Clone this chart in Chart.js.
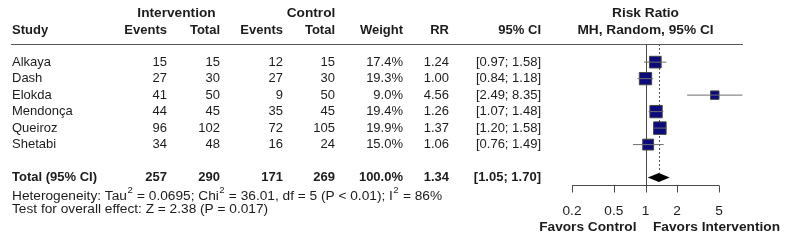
<!DOCTYPE html>
<html>
<head>
<meta charset="utf-8">
<script src="https://cdn.jsdelivr.net/npm/chart.js@4/dist/chart.umd.min.js"></script>
<style>
html,body{margin:0;padding:0;background:#fff;}
canvas{display:block;}
</style>
</head>
<body>
<canvas id="c" width="785" height="240"></canvas>
<script>
// ---- data ----
const studies = ['Alkaya', 'Dash', 'Elokda', 'Mendonça', 'Queiroz', 'Shetabi'];
const intEvents = [15, 27, 41, 44, 96, 34];
const intTotal = [15, 30, 50, 45, 102, 48];
const ctrlEvents = [12, 27, 9, 35, 72, 16];
const ctrlTotal = [15, 30, 50, 45, 105, 24];
const weights = [17.4, 19.3, 9.0, 19.4, 19.9, 15.0];
const rr = [1.24, 1.00, 4.56, 1.26, 1.37, 1.06];
const ciLow = [0.97, 0.84, 2.49, 1.07, 1.20, 0.76];
const ciHigh = [1.58, 1.18, 8.35, 1.48, 1.58, 1.49];
const totalLabel = 'Total (95% CI)';
const totalValues = [257, 290, 171, 269];
const totalWeight = 100.0;
const totalRR = 1.34;
const totalCI = [1.05, 1.70];
const axisTicks = [0.2, 0.5, 1, 2, 5];
const labelLeft = 'Favors Control';
const labelRight = 'Favors Intervention';
const heteroParts = [['Heterogeneity: Tau', 0], ['2', 1], [' = 0.0695; Chi', 0], ['2', 1], [' = 36.01, df = 5 (P < 0.01); I', 0], ['2', 1], [' = 86%', 0]];
const overallText = 'Test for overall effect: Z = 2.38 (P = 0.017)';

// ---- layout / style ----
const FONT = '"Liberation Sans", Arial, sans-serif';
const TXT = '#1c1c1c';
const rowTotal = 7;
const colRight = {ie: 167, it: 220, ce: 283, ct: 335, w: 403, rr: 449, ci: 541};
const BIG = '13.7px ';

function fmtCI(lo, hi) { return '[' + lo.toFixed(2) + '; ' + hi.toFixed(2) + ']'; }
function sideFor(w) { return 2.8 * Math.sqrt(w); }

const ciDatasets = studies.map((s, i) => ({
  type: 'line',
  data: [{x: ciLow[i], y: i}, {x: ciHigh[i], y: i}],
  borderColor: '#6e6e6e',
  borderWidth: 1,
  pointRadius: 0,
  clip: false,
  order: 0
}));

const squareDataset = {
  type: 'scatter',
  data: studies.map((s, i) => ({x: rr[i], y: i})),
  pointStyle: 'rect',
  pointRadius: weights.map(w => sideFor(w) / (2 * Math.SQRT1_2)),
  backgroundColor: '#0b0b7e',
  borderColor: '#444',
  borderWidth: 1,
  clip: false,
  order: 1
};

const forestPlugin = {
  id: 'forest',
  beforeDatasetsDraw(chart) {
    const ctx = chart.ctx;
    const xs = chart.scales.x, ys = chart.scales.y;
    const ca = chart.chartArea;
    ctx.save();
    // header rule
    ctx.strokeStyle = '#5a5a5a';
    ctx.lineWidth = 1;
    ctx.beginPath();
    ctx.moveTo(11, Math.round(ca.top) + 0.5);
    ctx.lineTo(743, Math.round(ca.top) + 0.5);
    ctx.stroke();
    // reference line at 1
    const x1 = Math.round(xs.getPixelForValue(1)) + 0.5;
    ctx.strokeStyle = '#4a4a4a';
    ctx.beginPath();
    ctx.moveTo(x1, ca.top);
    ctx.lineTo(x1, ca.bottom);
    ctx.stroke();
    // dotted summary line
    const xs1 = Math.round(xs.getPixelForValue(totalRR)) + 0.5;
    const yT = ys.getPixelForValue(rowTotal);
    ctx.setLineDash([2, 2]);
    ctx.strokeStyle = '#555';
    ctx.beginPath();
    ctx.moveTo(xs1, ca.top);
    ctx.lineTo(xs1, yT - 5);
    ctx.stroke();
    ctx.setLineDash([]);
    // diamond
    ctx.fillStyle = '#000';
    ctx.beginPath();
    ctx.moveTo(xs.getPixelForValue(totalCI[0]), yT);
    ctx.lineTo(xs.getPixelForValue(totalRR), yT - 4.5);
    ctx.lineTo(xs.getPixelForValue(totalCI[1]), yT);
    ctx.lineTo(xs.getPixelForValue(totalRR), yT + 4.5);
    ctx.closePath();
    ctx.fill();
    // axis
    const ay = Math.round(ca.bottom) + 0.5;
    ctx.strokeStyle = '#4a4a4a';
    ctx.beginPath();
    ctx.moveTo(xs.getPixelForValue(axisTicks[0]), ay);
    ctx.lineTo(xs.getPixelForValue(axisTicks[axisTicks.length - 1]), ay);
    axisTicks.forEach(t => {
      const tx = Math.round(xs.getPixelForValue(t)) + 0.5;
      ctx.moveTo(tx, ay);
      ctx.lineTo(tx, ay + 7);
    });
    ctx.stroke();
    ctx.fillStyle = TXT;
    ctx.font = BIG + FONT;
    ctx.textAlign = 'center';
    ctx.textBaseline = 'middle';
    axisTicks.forEach(t => {
      ctx.fillText(String(t), xs.getPixelForValue(t), ay + 25.5);
    });
    ctx.font = 'bold ' + BIG + FONT;
    ctx.textAlign = 'right';
    ctx.fillText(labelLeft, x1 - 10, ay + 42);
    ctx.textAlign = 'left';
    ctx.fillText(labelRight, x1 + 6.5, ay + 42);
    ctx.restore();
  },
  afterDatasetsDraw(chart) {
    const ctx = chart.ctx;
    const xs = chart.scales.x, ys = chart.scales.y;
    ctx.save();
    // inner CI lines for confidence intervals hidden by the square
    studies.forEach((s, i) => {
      const cx = xs.getPixelForValue(rr[i]);
      const half = sideFor(weights[i]) / 2;
      const lo = xs.getPixelForValue(ciLow[i]), hi = xs.getPixelForValue(ciHigh[i]);
      if (lo >= cx - half && hi <= cx + half) {
        const y = Math.round(ys.getPixelForValue(i)) + 0.5;
        ctx.strokeStyle = '#ffffff';
        ctx.lineWidth = 1;
        ctx.beginPath();
        ctx.moveTo(lo + 1, y);
        ctx.lineTo(hi - 1, y);
        ctx.stroke();
      }
    });
    // table text
    ctx.fillStyle = TXT;
    ctx.textBaseline = 'middle';
    ctx.font = 'bold ' + BIG + FONT;
    ctx.textAlign = 'center';
    ctx.fillText('Intervention', 176.5, 13);
    ctx.fillText('Control', 311, 13);
    ctx.fillText('Risk Ratio', xs.getPixelForValue(1), 13);
    ctx.fillText('MH, Random, 95% CI', xs.getPixelForValue(1), 30);
    ctx.font = 'bold 13px ' + FONT;
    ctx.textAlign = 'left';
    ctx.fillText('Study', 12, 30);
    ctx.textAlign = 'right';
    ctx.fillText('Events', colRight.ie, 30);
    ctx.fillText('Total', colRight.it, 30);
    ctx.fillText('Events', colRight.ce, 30);
    ctx.fillText('Total', colRight.ct, 30);
    ctx.fillText('Weight', colRight.w, 30);
    ctx.fillText('RR', colRight.rr, 30);
    ctx.fillText('95% CI', colRight.ci, 30);

    ctx.font = '13px ' + FONT;
    studies.forEach((s, i) => {
      const y = ys.getPixelForValue(i);
      ctx.textAlign = 'left';
      ctx.fillText(s, 12, y);
      ctx.textAlign = 'right';
      ctx.fillText(String(intEvents[i]), colRight.ie, y);
      ctx.fillText(String(intTotal[i]), colRight.it, y);
      ctx.fillText(String(ctrlEvents[i]), colRight.ce, y);
      ctx.fillText(String(ctrlTotal[i]), colRight.ct, y);
      ctx.fillText(weights[i].toFixed(1) + '%', colRight.w, y);
      ctx.fillText(rr[i].toFixed(2), colRight.rr, y);
      ctx.fillText(fmtCI(ciLow[i], ciHigh[i]), colRight.ci, y);
    });
    const yT = ys.getPixelForValue(rowTotal);
    ctx.font = 'bold 13px ' + FONT;
    ctx.textAlign = 'left';
    ctx.fillText(totalLabel, 12, yT);
    ctx.textAlign = 'right';
    ctx.fillText(String(totalValues[0]), colRight.ie, yT);
    ctx.fillText(String(totalValues[1]), colRight.it, yT);
    ctx.fillText(String(totalValues[2]), colRight.ce, yT);
    ctx.fillText(String(totalValues[3]), colRight.ct, yT);
    ctx.fillText(totalWeight.toFixed(1) + '%', colRight.w, yT);
    ctx.fillText(totalRR.toFixed(2), colRight.rr, yT);
    ctx.fillText(fmtCI(totalCI[0], totalCI[1]), colRight.ci, yT);

    // heterogeneity line with superscripts
    ctx.textAlign = 'left';
    let hx = 12;
    const hy = yT + 19;
    heteroParts.forEach(([t, sup]) => {
      if (sup) {
        ctx.font = '9.5px ' + FONT;
        ctx.fillText(t, hx + 0.5, hy - 6);
        hx += ctx.measureText(t).width + 1;
      } else {
        ctx.font = BIG + FONT;
        ctx.fillText(t, hx, hy);
        hx += ctx.measureText(t).width;
      }
    });
    ctx.font = BIG + FONT;
    ctx.fillText(overallText, 12, hy + 13);
    ctx.restore();
  }
};

new Chart(document.getElementById('c'), {
  type: 'scatter',
  data: { datasets: [...ciDatasets, squareDataset] },
  options: {
    responsive: false,
    devicePixelRatio: 1,
    animation: false,
    events: [],
    layout: { padding: { left: 572, right: 66, top: 44, bottom: 55 } },
    scales: {
      x: { type: 'logarithmic', min: 0.2, max: 5, display: false },
      y: { type: 'linear', reverse: true, min: -1.1, max: 7.45, display: false }
    },
    plugins: { legend: { display: false }, tooltip: { enabled: false } }
  },
  plugins: [forestPlugin]
});
</script>
</body>
</html>
